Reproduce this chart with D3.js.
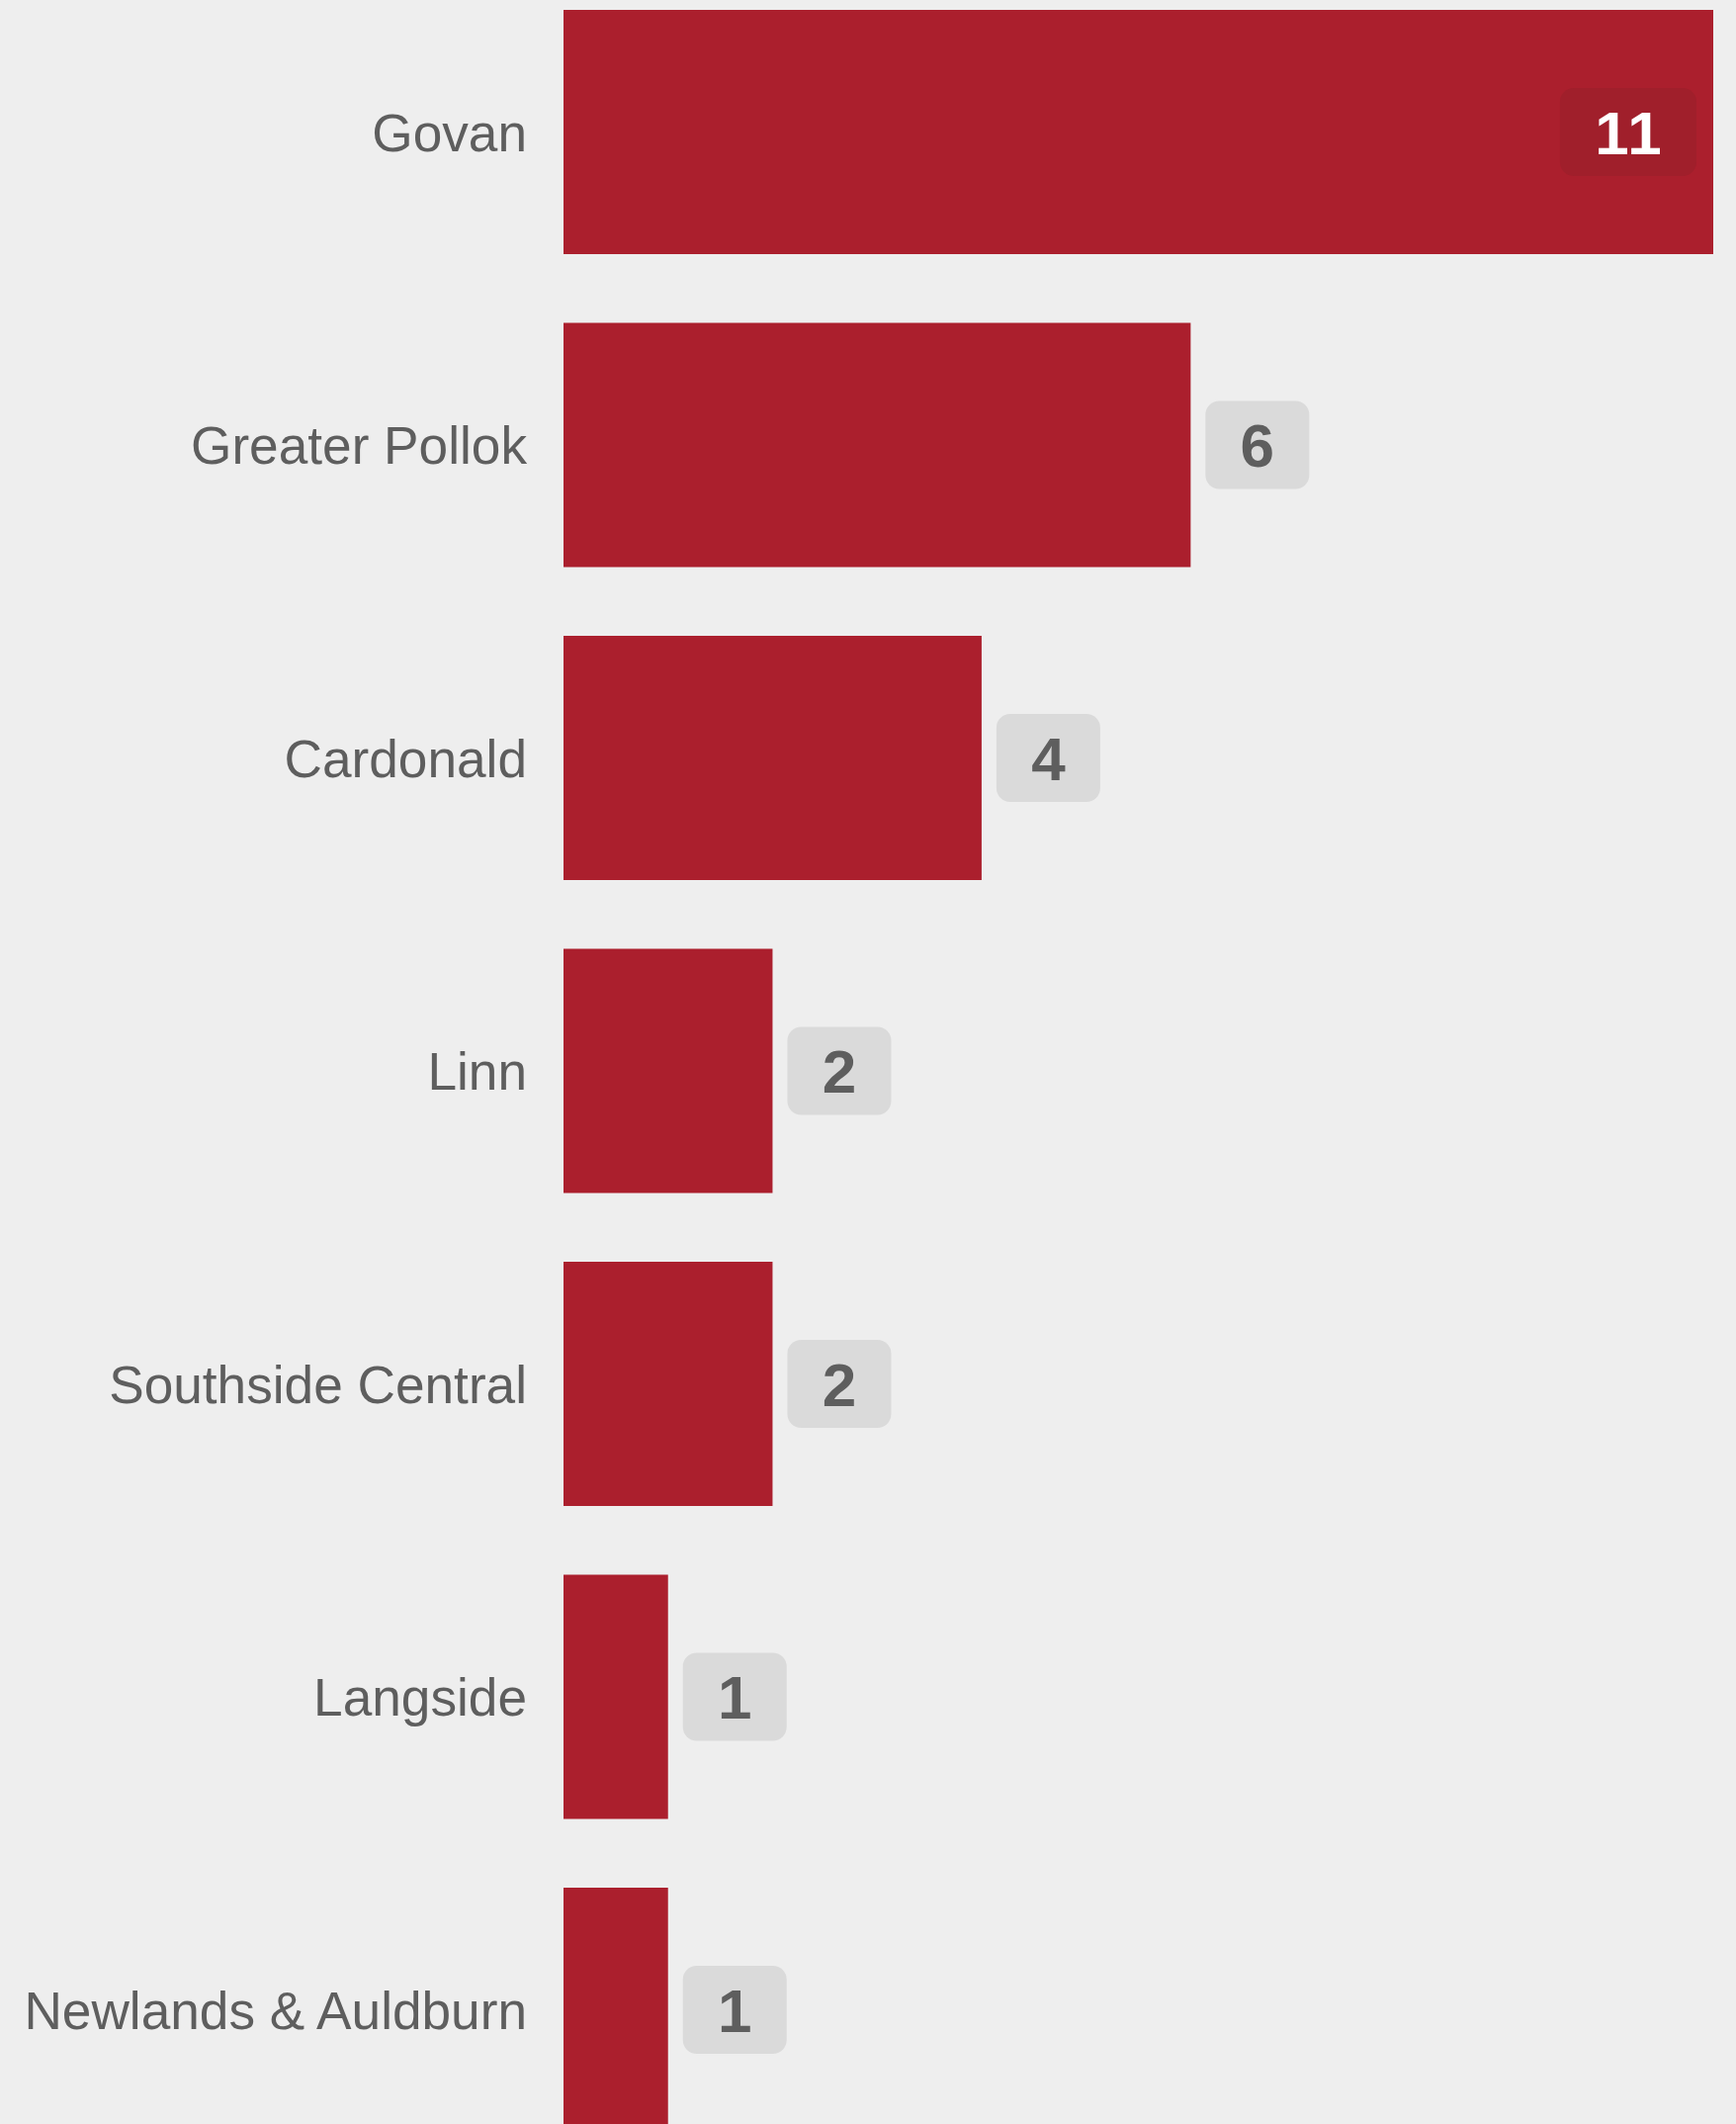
<!DOCTYPE html>
<html>
<head>
<meta charset="utf-8">
<script src="https://cdn.jsdelivr.net/npm/d3@7"></script>
<style>
  html, body { margin: 0; padding: 0; background: #eeeeee; }
  svg { display: block; }
</style>
</head>
<body>
<script>
const categories = ["Govan", "Greater Pollok", "Cardonald", "Linn", "Southside Central", "Langside", "Newlands & Auldburn"];
const values = [11, 6, 4, 2, 2, 1, 1];

const W = 1756, H = 2148;
const svg = d3.select("body").append("svg").attr("width", W).attr("height", H);
svg.append("rect").attr("width", W).attr("height", H).attr("fill", "#eeeeee");

const x = d3.scaleLinear().domain([0, d3.max(values)]).range([570, 1733]);
const y = d3.scaleBand().domain(categories).range([10, 2156]).paddingInner(0.2196).paddingOuter(0);

const data = categories.map((c, i) => ({ cat: c, val: values[i] }));

const g = svg.append("g");

g.selectAll("rect.bar").data(data).join("rect")
  .attr("class", "bar")
  .attr("x", x(0))
  .attr("y", d => y(d.cat))
  .attr("width", d => x(d.val) - x(0))
  .attr("height", y.bandwidth())
  .attr("fill", "#ab1f2d");

g.selectAll("text.cat").data(data).join("text")
  .attr("class", "cat")
  .attr("x", 533)
  .attr("y", d => y(d.cat) + y.bandwidth() / 2)
  .attr("dy", "0.36em")
  .attr("text-anchor", "end")
  .attr("font-family", "Liberation Sans, Arial, sans-serif")
  .attr("font-size", 53.2)
  .attr("fill", "#5e5e5e")
  .text(d => d.cat);

const maxV = d3.max(values);
const labels = g.selectAll("g.lab").data(data).join("g").attr("class", "lab");
labels.each(function(d) {
  const sel = d3.select(this);
  const inside = d.val === maxV;
  const t = sel.append("text")
    .attr("font-family", "Liberation Sans, Arial, sans-serif")
    .attr("font-weight", "bold")
    .attr("font-size", 62)
    .attr("letter-spacing", 2)
    .attr("text-anchor", "middle")
    .attr("dy", "0.36em")
    .attr("fill", inside ? "#ffffff" : "#5e5e5e")
    .text(d.val);
  const tw = t.node().getComputedTextLength();
  const bw = tw + 68.5, bh = 89;
  const cy = y(d.cat) + y.bandwidth() / 2;
  const bx = inside ? x(d.val) - 17 - bw : x(d.val) + 15;
  sel.insert("rect", "text")
    .attr("x", bx).attr("y", cy - bh / 2)
    .attr("width", bw).attr("height", bh)
    .attr("rx", 14).attr("ry", 14)
    .attr("fill", inside ? "#a01f2b" : "#dadada");
  t.attr("x", bx + bw / 2 + 1).attr("y", cy);
});
</script>
</body>
</html>
